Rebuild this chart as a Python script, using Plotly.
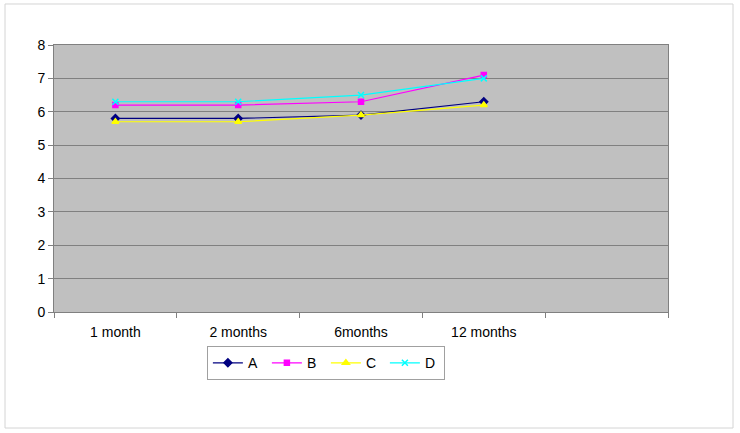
import plotly.graph_objects as go

MONTHS = ['1 month', '2 months', '6months', '12 months']
A = [5.8, 5.8, 5.9, 6.3]
B = [6.2, 6.2, 6.3, 7.1]
C = [5.7, 5.7, 5.9, 6.2]
D = [6.3, 6.3, 6.5, 7.0]
Y_TICKS = [0, 1, 2, 3, 4, 5, 6, 7, 8]

FONT = 'Liberation Sans, Arial'
GRID = '#808080'

series = [
    ('A', A, '#000080', 'diamond', 6),
    ('B', B, '#FF00FF', 'square', 5),
    ('C', C, '#FFFF00', 'triangle-up', 6),
    ('D', D, '#00FFFF', 'x-thin-open', 6),
]

xs = list(range(len(MONTHS)))
fig = go.Figure()
for name, vals, col, sym, sz in series:
    fig.add_trace(go.Scatter(
        x=xs, y=vals, name=name, mode='lines+markers',
        line=dict(color=col, width=1.2),
        marker=dict(symbol=sym, size=sz, color=col, line=dict(color=col, width=1.5)),
    ))

# outer chart border
fig.add_shape(type='rect', xref='paper', yref='paper',
              x0=-0.0798, x1=1.1059, y0=-0.4345, y1=1.1536,
              line=dict(color='#d4d4d4', width=1), layer='below')

fig.update_layout(
    width=740, height=433,
    margin=dict(l=54, r=72, t=45, b=121),
    paper_bgcolor='white', plot_bgcolor='#C0C0C0',
    font=dict(family=FONT, size=14, color='black'),
    showlegend=True,
    legend=dict(orientation='h', x=0.249, y=-0.128, xanchor='left', yanchor='top',
                bgcolor='white', bordercolor='#a0a0a0', borderwidth=1,
                font=dict(size=14), itemwidth=30, entrywidth=14, tracegroupgap=0,
                valign='middle'),
    xaxis=dict(range=[-0.5, 4.5], tickvals=xs, ticktext=MONTHS,
               showgrid=False, zeroline=False,
               showline=True, linecolor=GRID, mirror=True, linewidth=1,
               ticks='outside', ticklen=7, tickcolor='rgba(0,0,0,0)',
               minor=dict(tick0=-0.5, dtick=1, ticks='outside', ticklen=5,
                          tickcolor=GRID, showgrid=False)),
    yaxis=dict(range=[0, 8], tickvals=Y_TICKS, showgrid=True, gridcolor=GRID,
               gridwidth=1, zeroline=False,
               showline=True, linecolor=GRID, mirror=True, linewidth=1,
               ticks='outside', ticklen=5, tickcolor=GRID),
)

fig.write_html('out.html', config={'displayModeBar': False},
               post_script="document.body.style.margin='0';")
